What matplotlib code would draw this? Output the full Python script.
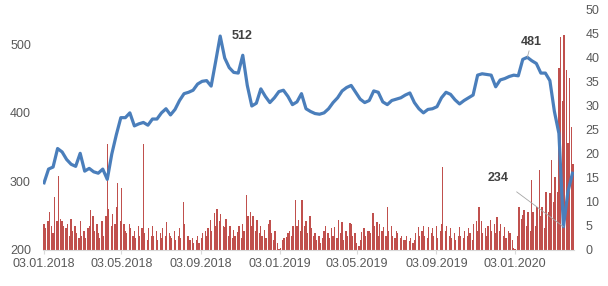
import numpy as np
import pandas as pd
import matplotlib
matplotlib.use("Agg")
import matplotlib.pyplot as plt
import matplotlib.dates as mdates

# weekly closing price (left axis), starting 03.01.2018
price = [298, 318, 321, 348, 343, 332, 325, 322, 341, 315,
         319, 314, 312, 318, 303, 340, 368, 393, 393, 400,
         381, 384, 386, 382, 391, 391, 400, 406, 397, 405,
         418, 428, 430, 433, 442, 446, 447, 439, 475, 512,
         480, 466, 459, 458, 484, 440, 410, 414, 435, 424,
         415, 422, 431, 433, 424, 412, 416, 428, 406, 402,
         399, 398, 400, 406, 415, 422, 432, 437, 440, 430,
         420, 415, 418, 432, 430, 416, 412, 418, 420, 422,
         426, 429, 415, 406, 400, 405, 406, 409, 422, 430,
         427, 419, 413, 418, 422, 426, 455, 457, 456, 455,
         438, 448, 450, 453, 455, 454, 478, 481, 476, 472,
         458, 458, 447, 402, 370, 234, 285, 312]

# traded volume (right axis), every second trading day
volume = [5.5, 4.5, 6.0, 8.0, 5.0, 3.5, 11.0, 6.0, 15.5, 6.5,
          6.0, 5.0, 4.5, 5.5, 3.0, 6.5, 4.0, 5.0, 3.5, 2.5,
          6.0, 3.0, 4.0, 2.5, 4.5, 5.0, 8.3, 7.0, 4.0, 5.5,
          3.5, 2.5, 6.0, 3.0, 7.0, 22.0, 8.5, 5.0, 7.5, 5.5,
          9.0, 14.0, 6.0, 13.0, 5.5, 4.0, 3.5, 5.5, 4.5, 3.0,
          4.0, 2.5, 5.0, 3.0, 4.5, 22.0, 3.5, 2.0, 4.5, 3.0,
          5.0, 3.0, 4.0, 2.0, 3.5, 2.5, 4.5, 3.0, 5.8, 3.5,
          3.0, 2.5, 4.0, 2.0, 3.0, 4.5, 2.5, 10.0, 5.5, 3.0,
          3.0, 2.0, 2.5, 1.5, 2.0, 3.0, 1.5, 2.5, 3.5, 4.0,
          3.0, 4.5, 6.3, 4.0, 7.7, 5.0, 8.5, 6.0, 7.5, 5.0,
          4.8, 6.5, 3.0, 5.0, 2.5, 4.2, 3.0, 3.8, 5.0, 2.5,
          5.5, 4.0, 11.5, 7.0, 8.0, 5.0, 7.0, 4.0, 6.3, 3.5,
          5.0, 3.0, 4.2, 2.5, 5.5, 6.3, 3.5, 2.0, 4.0, 1.5,
          0.3, 0.5, 2.0, 2.5, 2.8, 3.5, 4.0, 3.0, 5.0, 10.4,
          5.0, 6.3, 4.0, 10.4, 5.0, 6.0, 3.5, 7.0, 4.5, 3.0,
          3.5, 2.0, 3.0, 1.5, 2.5, 4.0, 5.0, 3.5, 2.5, 4.5,
          3.0, 4.8, 2.5, 6.3, 3.5, 5.8, 2.0, 4.0, 3.0, 5.6,
          5.5, 3.0, 3.5, 1.5, 0.8, 2.0, 3.8, 4.5, 3.0, 4.0,
          4.0, 3.5, 7.7, 5.0, 5.8, 3.0, 5.5, 4.0, 4.8, 3.0,
          9.0, 4.0, 5.0, 3.0, 2.5, 4.0, 3.5, 2.5, 3.0, 2.0,
          2.0, 3.0, 1.8, 2.5, 1.5, 2.0, 3.5, 4.8, 3.0, 4.0,
          5.0, 3.0, 2.5, 4.8, 3.5, 4.5, 3.0, 5.0, 2.5, 4.0,
          5.5, 17.3, 4.0, 5.0, 3.0, 4.5, 2.5, 3.5, 2.0, 3.0,
          4.8, 3.0, 2.5, 4.0, 3.0, 4.5, 3.5, 2.0, 5.5, 6.0,
          4.0, 9.0, 6.0, 3.5, 4.5, 3.0, 5.0, 6.3, 4.0, 5.5,
          3.5, 6.9, 4.0, 5.5, 3.0, 4.8, 2.5, 4.0, 3.5, 2.0,
          0.5, 0.3, 3.0, 9.0, 6.5, 7.3, 8.3, 5.0, 8.0, 4.0,
          14.6, 8.0, 5.0, 9.0, 16.7, 7.0, 9.0, 4.5, 12.0, 8.0,
          11.8, 18.8, 10.0, 15.2, 12.0, 38.0, 44.4, 31.0, 44.8, 37.5,
          22.3, 35.8, 25.7, 18.0]

tick_dates = ["2018-01-03", "2018-05-03", "2018-09-03", "2019-01-03",
              "2019-05-03", "2019-09-03", "2020-01-03"]
note_weeks = [39, 107, 115]

price_dates = pd.date_range("2018-01-03", periods=len(price), freq="7D")
vol_dates = pd.bdate_range("2018-01-03", periods=2 * len(volume))[::2]

grey = "#595959"
plt.rcParams["font.family"] = ["Liberation Sans", "DejaVu Sans"]

fig = plt.figure(figsize=(6.08, 2.86), dpi=100)
ax_vol = fig.add_axes([43.4 / 608, 1 - 250 / 286, 531 / 608, 240 / 286])
ax = ax_vol.twinx()

ax_vol.bar(vol_dates, volume, width=2.0, color="#C0504D", linewidth=0)
ax.plot(price_dates, price, color="#4A7EBB", lw=2.3, solid_joinstyle="round")

ax.set_xlim(pd.Timestamp("2018-01-02"), pd.Timestamp("2020-04-04"))
ax_vol.set_ylim(0, 50)
ax_vol.set_yticks(np.arange(0, 51, 5))
ax.set_ylim(200, 550)
ax.set_yticks([200, 300, 400, 500])

ax_vol.yaxis.tick_right()
ax.yaxis.tick_left()

ax_vol.set_xticks([pd.Timestamp(d) for d in tick_dates])
ax_vol.xaxis.set_major_formatter(mdates.DateFormatter("%d.%m.%Y"))

for a in (ax, ax_vol):
    for s in a.spines.values():
        s.set_visible(False)
ax_vol.spines["bottom"].set_visible(True)
ax_vol.spines["bottom"].set_color("#d9d9d9")

ax_vol.tick_params(axis="x", length=3, color="#d9d9d9", labelsize=9,
                   labelcolor=grey, pad=3)
ax_vol.tick_params(axis="y", length=0, labelsize=9, labelcolor=grey, pad=8)
ax.tick_params(axis="y", length=0, labelsize=9, labelcolor=grey, pad=9)

offsets = [(16, 0), (3, 11), (-47, 35)]
for w, off in zip(note_weeks, offsets):
    ax.annotate(str(price[w]), xy=(price_dates[w], price[w]), xytext=off,
                textcoords="offset points", ha="center", va="center",
                fontsize=9, fontweight="bold", color="#404040",
                arrowprops=dict(arrowstyle="-", color="#a6a6a6", lw=0.6,
                                shrinkA=6, shrinkB=0)
                if off != (16, 0) else None)

fig.savefig("out.png", dpi=100)
